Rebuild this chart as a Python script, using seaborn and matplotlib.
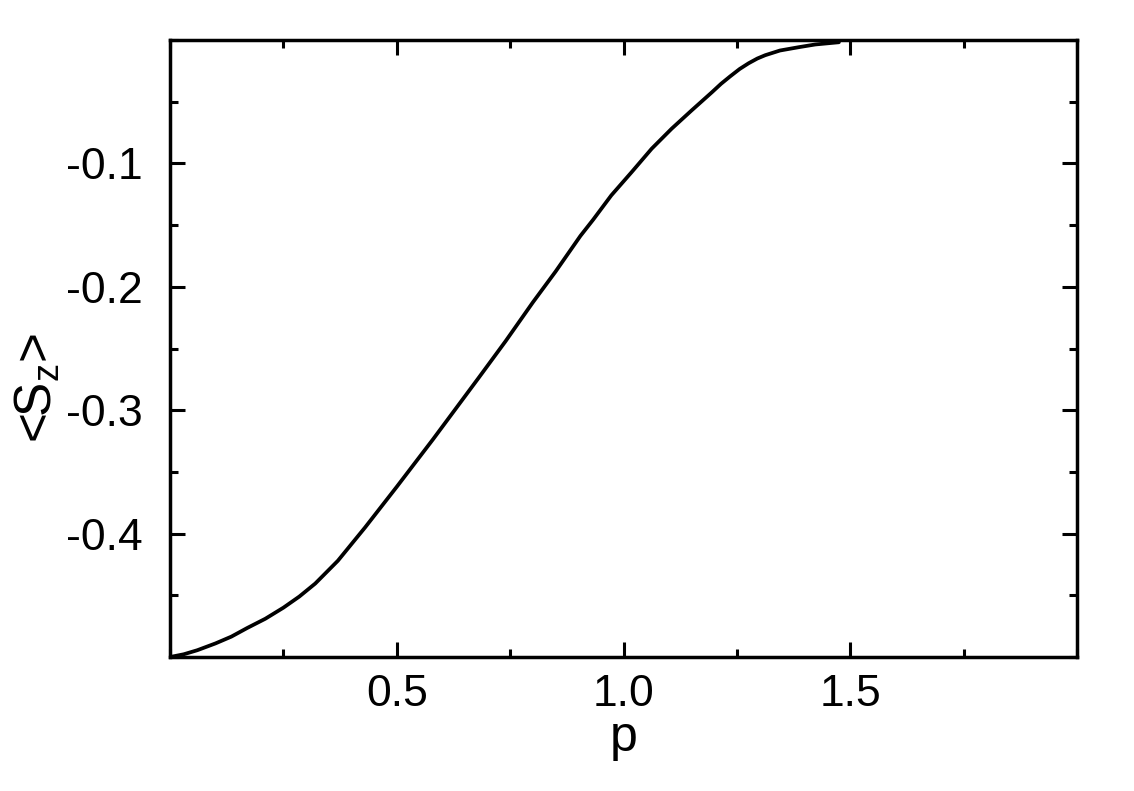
import matplotlib
matplotlib.use("Agg")
import matplotlib.pyplot as plt
import seaborn as sns
import pandas as pd
from matplotlib.ticker import MultipleLocator

# data
p_values = [0.0, 0.03, 0.06, 0.10, 0.135, 0.17, 0.21, 0.25, 0.285, 0.32, 0.37,
            0.43, 0.50, 0.58, 0.68, 0.74, 0.80, 0.85, 0.905, 0.933, 0.973,
            1.018, 1.062, 1.106, 1.150, 1.195, 1.215, 1.235, 1.256, 1.276,
            1.295, 1.3125, 1.345, 1.3865, 1.423, 1.475]
sz_values = [-0.5, -0.4978, -0.4945, -0.489, -0.4835, -0.4765, -0.469, -0.460,
             -0.451, -0.4405, -0.422, -0.395, -0.362, -0.3235, -0.274,
             -0.244, -0.2126, -0.1877, -0.1587, -0.1456, -0.1259, -0.107,
             -0.0881, -0.0719, -0.0571, -0.0423, -0.0355, -0.0295, -0.0235,
             -0.0188, -0.015, -0.0123, -0.0085, -0.0058, -0.0036, -0.0018]
x_ticks = [0.5, 1.0, 1.5]
x_ticklabels = ["0.5", "1.0", "1.5"]
y_ticks = [-0.1, -0.2, -0.3, -0.4]
y_ticklabels = ["-0.1", "-0.2", "-0.3", "-0.4"]

sns.set_style("ticks")
plt.rcParams["font.family"] = ["Liberation Sans", "DejaVu Sans"]
plt.rcParams["mathtext.default"] = "regular"
plt.rcParams["text.color"] = "black"
plt.rcParams["axes.labelcolor"] = "black"
plt.rcParams["xtick.color"] = "black"
plt.rcParams["ytick.color"] = "black"

df = pd.DataFrame({"p": p_values, "Sz": sz_values})

fig = plt.figure(figsize=(11.34, 7.91), dpi=100)
ax = fig.add_axes([0.150, 0.1694, 0.7997, 0.78])

sns.lineplot(data=df, x="p", y="Sz", ax=ax, color="black", linewidth=2.7,
             estimator=None, sort=False)
ax.lines[0].set_solid_joinstyle("round")

ax.set_xlim(0, 2.0)
ax.set_ylim(-0.5, 0.0)
ax.set_xticks(x_ticks)
ax.set_xticklabels(x_ticklabels)
ax.set_yticks(y_ticks)
ax.set_yticklabels(y_ticklabels)
ax.xaxis.set_minor_locator(MultipleLocator(0.25))
ax.yaxis.set_minor_locator(MultipleLocator(0.05))

ax.tick_params(which="both", direction="in", top=True, right=True,
               width=2.2, color="black", labelcolor="black")
ax.tick_params(which="major", length=11)
ax.tick_params(which="minor", length=6)
ax.tick_params(axis="x", which="major", labelsize=32, pad=12)
ax.tick_params(axis="y", which="major", labelsize=32, pad=20)

for s in ax.spines.values():
    s.set_linewidth(2.5)
    s.set_color("black")

ax.set_xlabel("p", fontsize=36, labelpad=0, color="black")
ax.set_ylabel(r"<S$_z$>", fontsize=37, color="black")
ax.yaxis.set_label_coords(-0.118, 0.436)

fig.savefig("out.png", dpi=100)
